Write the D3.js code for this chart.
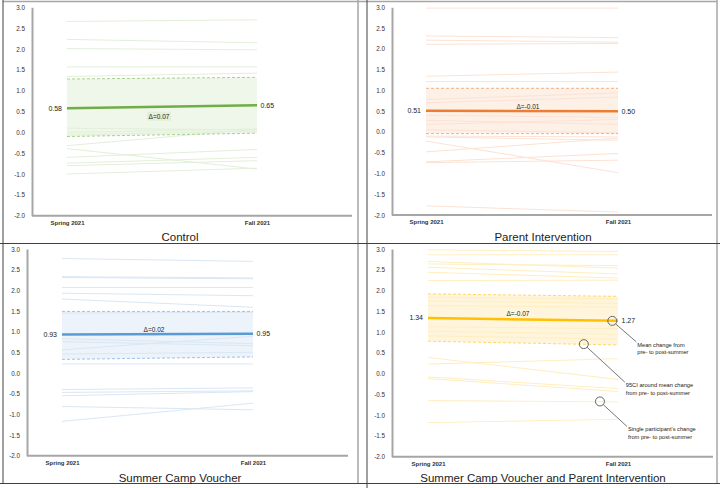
<!DOCTYPE html>
<html><head><meta charset="utf-8">
<script src="https://cdn.jsdelivr.net/npm/d3@7"></script>
<style>body{margin:0;background:#fff;} svg{display:block;font-family:"Liberation Sans",Arial,sans-serif;}</style>
</head><body><svg id="c" width="720" height="488"></svg>
<script>
// ---------- DATA ----------
const timepoints = ["Spring 2021", "Fall 2021"];
const yTicks = [3.0, 2.5, 2.0, 1.5, 1.0, 0.5, 0.0, -0.5, -1.0, -1.5, -2.0];
const panelTitles = ["Control", "Parent Intervention", "Summer Camp Voucher", "Summer Camp Voucher and Parent Intervention"];

const controlMean = [0.58, 0.65];
const controlCIUpper = [1.28, 1.32];
const controlCILower = [-0.10, -0.02];
const controlParticipants = [
  [2.66, 2.70], [2.23, 2.15], [2.01, 1.98], [1.57, 1.57], [1.34, 1.42],
  [0.10, 0.06], [0.00, 0.08], [-0.06, 0.03], [-0.32, 0.08], [-0.39, -0.88],
  [-0.60, -0.41], [-0.74, -0.60], [-0.80, -0.68], [-1.00, -0.86]
];

const parentMean = [0.51, 0.50];
const parentCIUpper = [1.05, 1.05];
const parentCILower = [-0.04, -0.04];
const parentParticipants = [
  [2.98, 2.98], [2.31, 2.27], [2.21, 2.16], [2.11, 2.13], [1.34, 1.44],
  [1.21, 1.21], [0.78, 0.94], [0.70, 0.84], [0.40, 0.35], [0.28, 0.18],
  [0.18, 0.30], [0.05, -0.02], [-0.10, -0.12], [-0.12, -0.20], [-0.22, -0.98],
  [-0.48, -0.15], [-0.72, -0.52], [-0.74, -0.68], [-1.78, -1.93]
];

const voucherMean = [0.93, 0.95];
const voucherCIUpper = [1.49, 1.49];
const voucherCILower = [0.33, 0.39];
const voucherParticipants = [
  [2.77, 2.70], [2.33, 2.30], [2.31, 2.28], [2.07, 2.07], [1.93, 1.87],
  [1.79, 1.59], [1.45, 1.47], [0.83, 0.71], [0.76, 0.66], [0.56, 0.89],
  [0.46, 0.50], [0.22, 0.22], [-0.40, -0.36], [-0.47, -0.43], [-0.55, -0.45],
  [-0.81, -0.89], [-1.17, -0.73]
];

const comboMean = [1.34, 1.27];
const comboCIUpper = [1.92, 1.86];
const comboCILower = [0.78, 0.69];
const comboParticipants = [
  [2.98, 2.94], [2.86, 2.86], [2.70, 2.54], [2.64, 2.60], [2.56, 2.40],
  [2.44, 2.30], [2.24, 2.25], [1.84, 1.80], [1.75, 1.69], [1.64, 1.60],
  [1.13, 1.08], [1.02, 0.95], [0.91, 0.83], [0.39, -0.14], [0.23, 0.36],
  [-0.08, -0.36], [-0.12, -0.43], [-0.65, -0.68], [-1.18, -1.10]
];

// annotation anchors in panel 4: fraction along the segment, value
const annotationLabels = [
  ["Mean change from", "pre- to post-summer"],
  ["95CI around mean change", "from pre- to post-summer"],
  ["Single participant's change", "from pre- to post-summer"]
];
const annotationAnchors = [[0.97, 1.27], [0.82, 0.71], [0.905, -0.67]];

// ---------- STYLE / LAYOUT ----------
const panels = [
  {mean: controlMean, up: controlCIUpper, lo: controlCILower, parts: controlParticipants,
   c: {mean: "#70ad47", light: "#e2efd9", band: "#eff7ea", dash: "#a9d18e"},
   L: {ax: 32, top: 7.3, bot: 215.7, x0: 67, x1: 257, right: 352, tx: 180, ty: 241, ddx: -3, ddy: 12, bg: "#e2efd9"}},
  {mean: parentMean, up: parentCIUpper, lo: parentCILower, parts: parentParticipants,
   c: {mean: "#ed7d31", light: "#fce2d3", band: "#fdf0e7", dash: "#f4b183"},
   L: {ax: 392, top: 7.3, bot: 215, x0: 426, x1: 618, right: 712, tx: 543, ty: 241, ddx: 6, ddy: -1.5}},
  {mean: voucherMean, up: voucherCIUpper, lo: voucherCILower, parts: voucherParticipants,
   c: {mean: "#5b9bd5", light: "#dae7f5", band: "#edf3fa", dash: "#9dc3e6"},
   L: {ax: 27, top: 249, bot: 455.7, x0: 62, x1: 253, right: 348, tx: 180, ty: 482, ddx: -3.5, ddy: -2.5}},
  {mean: comboMean, up: comboCIUpper, lo: comboCILower, parts: comboParticipants,
   c: {mean: "#ffc000", light: "#ffeec0", band: "#fff5dc", dash: "#ffd966"},
   L: {ax: 392, top: 249, bot: 456.7, x0: 428, x1: 618, right: 713, tx: 543, ty: 482, ddx: -5, ddy: -3}}
];
const annotationOffsets = [[24, 22], [41, 39], [27, 26]];

const svg = d3.select("#c");

// frames
const frame = svg.append("g");
const hl = (x1, y1, x2, y2, col, w) => frame.append("line").attr("x1", x1).attr("y1", y1).attr("x2", x2).attr("y2", y2).attr("stroke", col).attr("stroke-width", w);
hl(3, 1.5, 717, 1.5, "#a6a6a6", 1.5);
hl(358, 0, 358, 483, "#a6a6a6", 1.5);
hl(717, 0, 717, 483, "#a6a6a6", 1.5);
hl(3, 0, 3, 484, "#404040", 1);
hl(367, 0, 367, 488, "#404040", 1);
hl(0, 243.5, 720, 243.5, "#404040", 1);
hl(0, 483.5, 720, 483.5, "#404040", 1);

panels.forEach((p, i) => {
  const L = p.L;
  const g = svg.append("g");
  const x = d3.scalePoint().domain(timepoints).range([L.x0, L.x1]);
  const y = d3.scaleLinear().domain([-2, 3]).range([L.bot, L.top]);
  const seg = d => [[x(timepoints[0]), y(d[0])], [x(timepoints[1]), y(d[1])]];
  const line = d3.line();

  // CI band
  const bandPts = [[x(timepoints[0]), y(p.up[0])], [x(timepoints[1]), y(p.up[1])],
                   [x(timepoints[1]), y(p.lo[1])], [x(timepoints[0]), y(p.lo[0])]];
  g.append("path").attr("d", line(bandPts) + "Z").attr("fill", p.c.band);

  // participants
  g.selectAll(".pl").data(p.parts).join("path")
    .attr("d", d => line(seg(d))).attr("fill", "none")
    .attr("stroke", p.c.light).attr("stroke-width", 1);

  // CI dashed
  [p.up, p.lo].forEach(ci => {
    g.append("path").attr("d", line(seg(ci))).attr("fill", "none")
      .attr("stroke", p.c.dash).attr("stroke-width", 1).attr("stroke-dasharray", "3,2");
  });

  // axes
  const ya = g.append("g").attr("transform", `translate(${L.ax},0)`)
    .call(d3.axisLeft(y).tickValues(yTicks).tickSize(0).tickPadding(7).tickFormat(d => d.toFixed(1)));
  ya.select(".domain").attr("stroke", "#a6a6a6").attr("stroke-width", 2);
  ya.selectAll("text").attr("font-size", 6.3).attr("fill", "#333").attr("font-family", "Liberation Sans, Arial, sans-serif");

  g.append("line").attr("x1", L.ax).attr("x2", L.right).attr("y1", y(-2)).attr("y2", y(-2))
    .attr("stroke", "#a6a6a6").attr("stroke-width", 2);
  const xa = g.append("g").attr("transform", `translate(0,${y(-2)})`)
    .call(d3.axisBottom(x).tickSize(0).tickPadding(5));
  xa.select(".domain").remove();
  xa.selectAll("text").attr("font-size", 6).attr("font-weight", "bold").attr("fill", "#333")
    .attr("font-family", "Liberation Sans, Arial, sans-serif");

  // mean line
  g.append("path").attr("d", line(seg(p.mean))).attr("fill", "none")
    .attr("stroke", p.c.mean).attr("stroke-width", 2.5);
  g.append("text").attr("x", x(timepoints[0]) - 5).attr("y", y(p.mean[0]) + 2.5)
    .attr("text-anchor", "end").attr("font-size", 7).attr("fill", "#222").text(p.mean[0].toFixed(2));
  g.append("text").attr("x", x(timepoints[1]) + 3.5).attr("y", y(p.mean[1]) + 2.5)
    .attr("font-size", 7).attr("fill", "#222").text(p.mean[1].toFixed(2));

  // delta label
  const mx = (x(timepoints[0]) + x(timepoints[1])) / 2 + L.ddx;
  const my = (y(p.mean[0]) + y(p.mean[1])) / 2 + L.ddy;
  const dText = "Δ=" + (p.mean[1] - p.mean[0]).toFixed(2);
  if (L.bg) {
    g.append("rect").attr("x", mx - 12).attr("y", my - 7).attr("width", 24).attr("height", 9).attr("fill", L.bg);
  }
  g.append("text").attr("x", mx).attr("y", my).attr("text-anchor", "middle")
    .attr("font-size", 6.5).attr("fill", "#222").text(dText);

  // title
  g.append("text").attr("x", L.tx).attr("y", L.ty).attr("text-anchor", "middle")
    .attr("font-size", 11.5).attr("fill", "#222").text(panelTitles[i]);

  // annotations in last panel
  if (i === 3) {
    annotationAnchors.forEach((a, k) => {
      const cx = L.x0 + (L.x1 - L.x0) * a[0];
      const cy = y(a[1]);
      const [dx, dy] = annotationOffsets[k];
      const ang = Math.atan2(dy, dx);
      g.append("line").attr("x1", cx + 4.5 * Math.cos(ang)).attr("y1", cy + 4.5 * Math.sin(ang))
        .attr("x2", cx + dx).attr("y2", cy + dy - 1).attr("stroke", "#666").attr("stroke-width", 0.9);
      g.append("circle").attr("cx", cx).attr("cy", cy).attr("r", 4.5)
        .attr("fill", "none").attr("stroke", "#666").attr("stroke-width", 1);
      annotationLabels[k].forEach((t, j) => {
        g.append("text").attr("x", cx + dx + 1).attr("y", cy + dy + 4 + j * 7.5)
          .attr("font-size", 5.7).attr("fill", "#222").text(t);
      });
    });
  }
});
</script></body></html>
